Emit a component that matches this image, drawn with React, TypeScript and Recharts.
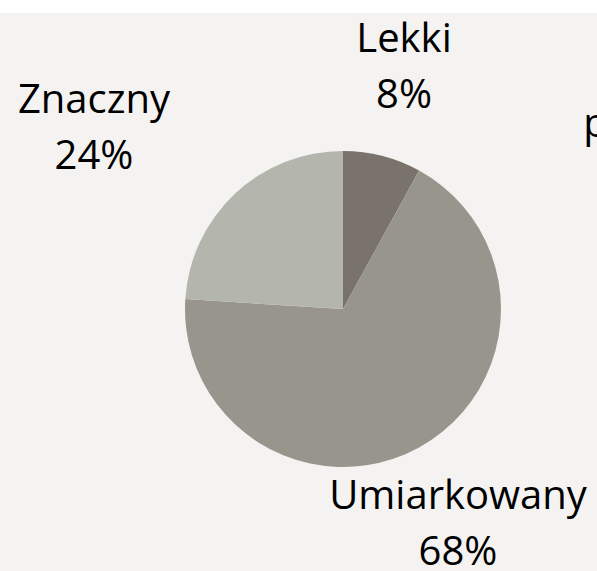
import React from "react";
import { PieChart, Pie, Cell } from "recharts";

const categories = ["Lekki", "Umiarkowany", "Znaczny", "pozostałe"];
const values = [8, 68, 24, 0];
const percentLabels = ["8%", "68%", "24%", "0%"];
const colors = ["#7a736c", "#98958d", "#b4b6ae", "#c9c8c2"];

// label layout offsets (relative to pie centre), first-line baseline
const labelOffsets = [
  { dx: 61, dy: -257 },
  { dx: 115, dy: 200 },
  { dx: -249, dy: -196 },
  { dx: 330, dy: -172 },
];
const LINE = 56;

const data = categories.map((name, i) => ({ name, value: values[i], pct: percentLabels[i] }));

const renderLabel = (props: any) => {
  const { cx, cy, index } = props;
  const o = labelOffsets[index];
  const x = cx + o.dx;
  const y = cy + o.dy;
  return (
    <text
      key={`lbl-${index}`}
      x={x}
      y={y}
      textAnchor="middle"
      fill="#000"
      style={{ fontFamily: "'Open Sans', sans-serif", fontSize: 40 }}
    >
      <tspan x={x} y={y}>{data[index].name}</tspan>
      <tspan x={x} y={y + LINE}>{data[index].pct}</tspan>
    </text>
  );
};

export default function App() {
  return (
    <div
      style={{
        position: "absolute",
        top: 13,
        left: 0,
        width: 597,
        height: 558,
        background: "#f4f3f1",
        overflow: "hidden",
      }}
    >
      <PieChart width={597} height={558} margin={{ top: 0, right: 0, bottom: 0, left: 0 }}>
        <Pie
          data={data}
          dataKey="value"
          nameKey="name"
          cx={343}
          cy={296}
          outerRadius={158}
          startAngle={90}
          endAngle={-270}
          stroke="none"
          labelLine={false}
          label={renderLabel}
          isAnimationActive={false}
        >
          {data.map((d, i) => (
            <Cell key={d.name} fill={colors[i]} />
          ))}
        </Pie>
      </PieChart>
    </div>
  );
}
